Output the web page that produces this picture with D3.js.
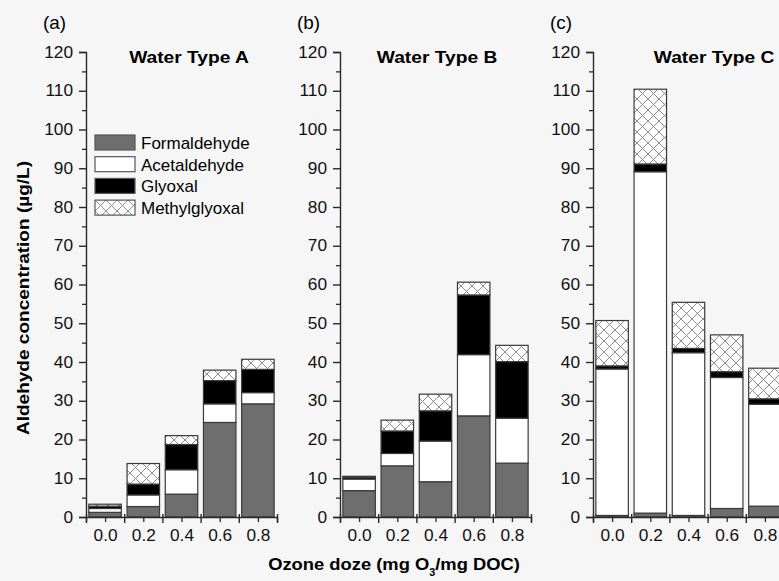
<!DOCTYPE html>
<html>
<head>
<meta charset="utf-8">
<script src="https://cdn.jsdelivr.net/npm/d3@7"></script>
<style>
  body { margin: 0; background: #f6f6f6; }
  svg { display: block; font-family: "Liberation Sans", Arial, sans-serif; }
</style>
</head>
<body>
<div id="chart"></div>
<script>
// ---- data (µg/L per compound) ----
var doses = [0.0, 0.2, 0.4, 0.6, 0.8];
var series = ["Formaldehyde", "Acetaldehyde", "Glyoxal", "Methylglyoxal"];
var panelLetters = ["(a)", "(b)", "(c)"];
var panelTitles = ["Water Type A", "Water Type B", "Water Type C"];
var yTicks = [0, 10, 20, 30, 40, 50, 60, 70, 80, 90, 100, 110, 120];

var formaldehydeA  = [1.2, 2.7, 5.9, 24.4, 29.2];
var acetaldehydeA  = [1.0, 3.0, 6.3, 4.8, 2.9];
var glyoxalA       = [0.6, 2.8, 6.5, 6.0, 6.0];
var methylglyoxalA = [0.5, 5.3, 2.3, 2.7, 2.6];

var formaldehydeB  = [6.8, 13.2, 9.1, 26.1, 13.9];
var acetaldehydeB  = [3.0, 3.2, 10.5, 15.8, 11.6];
var glyoxalB       = [0.5, 5.8, 7.8, 15.4, 14.6];
var methylglyoxalB = [0.2, 2.8, 4.3, 3.3, 4.2];

var formaldehydeC  = [0.4, 1.0, 0.4, 2.2, 2.8];
var acetaldehydeC  = [37.8, 88.1, 42.0, 33.8, 26.3];
var glyoxalC       = [0.8, 2.0, 1.1, 1.5, 1.4];
var methylglyoxalC = [11.7, 19.3, 11.9, 9.5, 7.9];

var panelData = [
    [formaldehydeA, acetaldehydeA, glyoxalA, methylglyoxalA],
    [formaldehydeB, acetaldehydeB, glyoxalB, methylglyoxalB],
    [formaldehydeC, acetaldehydeC, glyoxalC, methylglyoxalC]
];

// ---- layout ----
var width = 779, height = 581;
var panelLeft = [86, 340, 593];
var panelWidth = 191;
var barWidth = 0.17;  // in dose units
var axisColor = "#2a2a2a";

var svg = d3.select("#chart").append("svg")
    .attr("width", width)
    .attr("height", height);

svg.append("rect").attr("width", width).attr("height", height).attr("fill", "#f6f6f6");

var defs = svg.append("defs");
var hatch = defs.append("pattern")
    .attr("id", "hatch")
    .attr("patternUnits", "userSpaceOnUse")
    .attr("width", 11)
    .attr("height", 11);
hatch.append("rect").attr("width", 11).attr("height", 11).attr("fill", "#fff");
hatch.append("path")
    .attr("d", "M0,0L11,11M11,0L0,11M-1,10L1,12M10,-1L12,1")
    .attr("stroke", "#8c8c8c")
    .attr("stroke-width", 1);

var fills = d3.scaleOrdinal()
    .domain(series)
    .range(["#6e6e6e", "#ffffff", "#000000", "url(#hatch)"]);

var y = d3.scaleLinear().domain([0, 120]).range([517, 52]);

// text with a slight horizontal stretch, the reference font is wide
function addText(parent, x, yPos, str, size, weight, anchor, s) {
    return parent.append("text")
        .attr("transform", "translate(" + x + "," + yPos + ") scale(" + s + ",1)")
        .attr("font-size", size)
        .attr("font-weight", weight)
        .attr("text-anchor", anchor)
        .attr("fill", "#000")
        .text(str);
}

function stretchLabels(sel, s) {
    sel.each(function () {
        var t = d3.select(this);
        var x = +t.attr("x") || 0;
        t.attr("x", x / s).attr("transform", "scale(" + s + ",1)");
    });
}

panelData.forEach(function (cols, p) {
    var g = svg.append("g").attr("transform", "translate(" + panelLeft[p] + ",0)");

    var x = d3.scaleLinear().domain([-0.1, 0.9]).range([0, panelWidth]);

    var rows = doses.map(function (d, i) {
        var r = {dose: d};
        series.forEach(function (k, j) { r[k] = cols[j][i]; });
        return r;
    });
    var stacked = d3.stack().keys(series)(rows);

    g.append("g")
        .selectAll("g")
        .data(stacked)
        .enter().append("g")
        .attr("fill", function (d) { return fills(d.key); })
        .selectAll("rect")
        .data(function (d) { return d; })
        .enter().append("rect")
        .attr("x", function (d) { return x(d.data.dose - barWidth / 2); })
        .attr("y", function (d) { return y(d[1]); })
        .attr("width", x(barWidth) - x(0))
        .attr("height", function (d) { return y(d[0]) - y(d[1]); })
        .attr("stroke", "#3a3a3a")
        .attr("stroke-width", 1.2);

    // y axis, major + minor
    var yAxis = g.append("g")
        .call(d3.axisLeft(y).tickValues(yTicks).tickSize(7).tickPadding(6).tickFormat(d3.format("d")));
    yAxis.select(".domain").attr("stroke", axisColor).attr("stroke-width", 1.4);
    yAxis.selectAll(".tick line").attr("stroke", axisColor).attr("stroke-width", 1.4);
    yAxis.selectAll("text").attr("font-size", 16).attr("fill", "#111").attr("font-family", null);
    stretchLabels(yAxis.selectAll("text"), 1.08);

    var yMinor = g.append("g")
        .call(d3.axisLeft(y).tickValues(d3.range(5, 120, 10)).tickSize(4).tickFormat(""));
    yMinor.select(".domain").remove();
    yMinor.selectAll(".tick line").attr("stroke", axisColor).attr("stroke-width", 1.3);

    // x axis: labels at the bars, crossing ticks between them
    var xAxis = g.append("g")
        .attr("transform", "translate(0," + y(0) + ")")
        .call(d3.axisBottom(x).tickValues(doses).tickSize(5).tickPadding(8).tickFormat(d3.format(".1f")));
    xAxis.select(".domain").attr("stroke", axisColor).attr("stroke-width", 1.4);
    xAxis.selectAll(".tick line").attr("stroke", axisColor).attr("stroke-width", 1.3);
    xAxis.selectAll("text").attr("font-size", 16).attr("fill", "#111").attr("font-family", null);
    stretchLabels(xAxis.selectAll("text"), 1.08);

    var xBounds = g.append("g")
        .attr("transform", "translate(0," + y(0) + ")")
        .call(d3.axisBottom(x).tickValues([-0.1, 0.1, 0.3, 0.5, 0.7, 0.9]).tickSize(6).tickFormat(""));
    xBounds.select(".domain").remove();
    xBounds.selectAll(".tick line").attr("y1", -3).attr("stroke", axisColor).attr("stroke-width", 1.4);

    addText(svg, panelLeft[p] - 43, 29, panelLetters[p], 18, "normal", "start", 1.05);
    addText(svg, panelLeft[p] + [103, 97, 121][p], 63, panelTitles[p], 16, "bold", "middle", 1.2);
});

// legend inside panel A
var legend = svg.append("g")
    .selectAll("g")
    .data(series)
    .enter().append("g")
    .attr("transform", function (d, i) { return "translate(95," + (135 + i * 21.7) + ")"; });
legend.append("rect")
    .attr("width", 40)
    .attr("height", 15)
    .attr("fill", function (d) { return fills(d); })
    .attr("stroke", "#555")
    .attr("stroke-width", 1.2);
legend.append("text")
    .attr("x", 46)
    .attr("y", 14)
    .attr("font-size", 17)
    .attr("fill", "#000")
    .text(function (d) { return d; });

// axis titles
svg.append("text")
    .attr("transform", "translate(29,298) rotate(-90) scale(1.12,1)")
    .attr("text-anchor", "middle")
    .attr("font-size", 17)
    .attr("font-weight", "bold")
    .attr("fill", "#000")
    .text("Aldehyde concentration (µg/L)");

var xTitle = svg.append("text")
    .attr("transform", "translate(394,570) scale(1.08,1)")
    .attr("text-anchor", "middle")
    .attr("font-size", 17)
    .attr("font-weight", "bold")
    .attr("fill", "#000");
xTitle.append("tspan").text("Ozone doze (mg O");
xTitle.append("tspan").attr("dy", 6).attr("font-size", 10).text("3");
xTitle.append("tspan").attr("dy", -6).text("/mg DOC)");
</script>
</body>
</html>
